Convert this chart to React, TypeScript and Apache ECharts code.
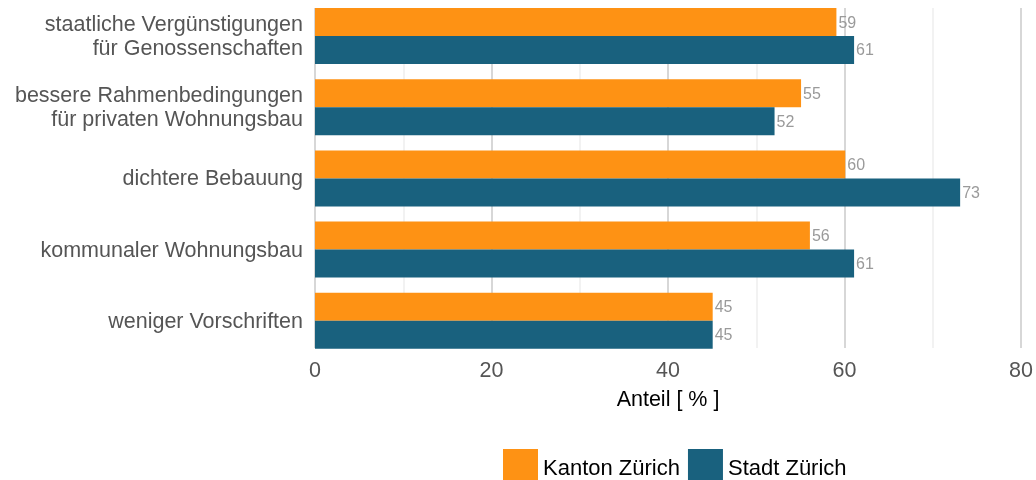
import React, { useEffect, useRef } from "react";
import * as echarts from "echarts";

const categories = [
  "staatliche Vergünstigungen\nfür Genossenschaften",
  "bessere Rahmenbedingungen\nfür privaten Wohnungsbau",
  "dichtere Bebauung",
  "kommunaler Wohnungsbau",
  "weniger Vorschriften",
];
const kanton = [59, 55, 60, 56, 45];
const stadt = [61, 52, 73, 61, 45];
const seriesNames = ["Kanton Zürich", "Stadt Zürich"];
const xTicks = { min: 0, max: 80, interval: 20 };

const SANS = "'Liberation Sans', Arial, sans-serif";

export default function App() {
  const ref = useRef<HTMLDivElement>(null);
  useEffect(() => {
    if (!ref.current) return;
    const chart = echarts.init(ref.current, null, { renderer: "svg" });
    const label = {
      show: true,
      position: "right" as const,
      distance: 2,
      color: "#9a9a9a",
      fontSize: 16,
      fontFamily: SANS,
    };
    chart.setOption({
      animation: false,
      grid: [
        { left: 315, right: 14, top: 8, height: 340, containLabel: false },
        { left: 315, right: 14, top: 0.4, height: 356, containLabel: false },
      ],
      legend: {
        left: 503,
        top: 449,
        padding: 0,
        itemWidth: 35,
        itemHeight: 36,
        itemGap: 8,
        icon: "rect",
        textStyle: { fontSize: 22, color: "#000", fontFamily: SANS },
        data: seriesNames,
      },
      xAxis: [
        {
          type: "value",
          gridIndex: 0,
          min: xTicks.min,
          max: xTicks.max,
          interval: xTicks.interval,
          name: "Anteil [ % ]",
          nameLocation: "middle",
          nameGap: 40,
          nameTextStyle: { fontSize: 21.5, color: "#000", fontFamily: SANS },
          axisLine: { show: false },
          axisTick: { show: false },
          axisLabel: { fontSize: 21.5, color: "#555", fontFamily: SANS, margin: 11 },
          splitLine: { show: true, lineStyle: { color: "#cacaca", width: 1.5 } },
          minorTick: { show: false, splitNumber: 2 },
          minorSplitLine: { show: true, lineStyle: { color: "#eeeeee", width: 1.5 } },
        },
        {
          type: "value",
          gridIndex: 1,
          min: xTicks.min,
          max: xTicks.max,
          interval: xTicks.interval,
          show: false,
          splitLine: { show: false },
        },
      ],
      yAxis: [
        {
          type: "value",
          gridIndex: 0,
          show: false,
          splitLine: { show: false },
        },
        {
          type: "category",
          gridIndex: 1,
          inverse: true,
          data: categories,
          axisLine: { show: false },
          axisTick: { show: false },
          splitLine: { show: false },
          axisLabel: {
            fontSize: 21.5,
            color: "#555",
            fontFamily: SANS,
            margin: 12,
            lineHeight: 24,
            align: "right",
          },
        },
      ],
      series: [
        {
          name: seriesNames[0],
          type: "bar",
          xAxisIndex: 1,
          yAxisIndex: 1,
          data: kanton,
          barGap: "0%",
          barCategoryGap: "21.4%",
          itemStyle: { color: "#FE9214" },
          label,
        },
        {
          name: seriesNames[1],
          type: "bar",
          xAxisIndex: 1,
          yAxisIndex: 1,
          data: stadt,
          barGap: "0%",
          barCategoryGap: "21.4%",
          itemStyle: { color: "#19617E" },
          label,
        },
      ],
    });
    return () => chart.dispose();
  }, []);
  return (
    <div
      ref={ref}
      style={{ position: "fixed", left: 0, top: 0, width: 1036, height: 480, overflow: "hidden" }}
    />
  );
}
